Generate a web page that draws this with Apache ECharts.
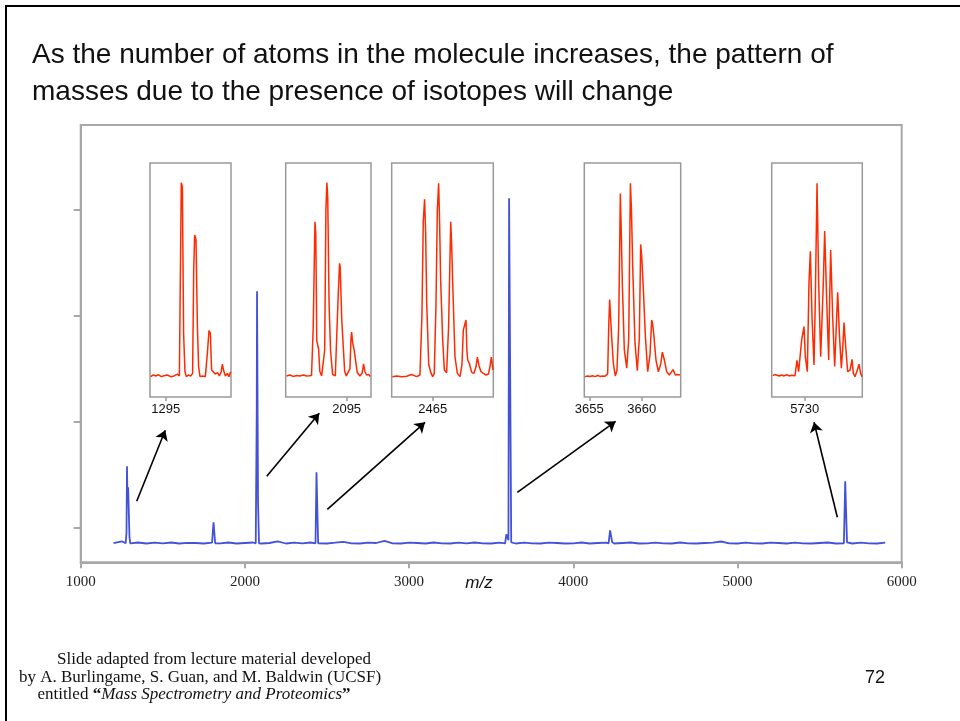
<!DOCTYPE html>
<html>
<head>
<meta charset="utf-8">
<title>isotope pattern</title>
<script src="https://cdn.jsdelivr.net/npm/echarts@6/dist/echarts.min.js"></script>
<style>
html,body{margin:0;padding:0;background:#fff;}
#main{width:960px;height:721px;}
</style>
</head>
<body>
<div id="main"></div>
<script>
// ---- main spectrum (blue) ----
// baseline noise, one value every 50 m/z from 1200
var noiseStart = 1200, noiseStep = 50;
var noiseVals = [
	19.2, 21, 19, 19.8, 18.8, 19.6, 19, 19.8, 18.8, 19.5,
	19.3, 18.8, 19.6, 19, 19.8, 18.8, 19.3, 19.8, 18.8, 19.3,
	21, 18.8, 19.6, 19, 19.8, 19, 18.8, 19.6, 20.5, 19,
	18.8, 19.6, 19.3, 21.5, 19, 18.8, 19.6, 19.3, 18.8, 19.8,
	19, 18.8, 19.6, 19, 19.8, 19, 18.8, 19.6, 19, 18.8,
	19.6, 19, 18.8, 19.6, 19.3, 18.8, 19, 19.8, 18.8, 19.3,
	19.6, 18.8, 19.3, 19.8, 18.8, 19, 19.6, 19, 18.8, 19.8,
	19, 18.8, 19.3, 19.6, 20.8, 19, 18.8, 19.6, 19, 18.8,
	19.6, 19.3, 18.8, 19.6, 19, 18.8, 19.3, 19.8, 18.8, 19,
	18.8, 19.6, 19, 18.8, 19.6
];
// peaks [m/z, intensity]
var peak1295 = [[1274,19],[1279,30],[1282,96],[1285,60],[1289,75],[1294,75],[1297,25],[1302,19]];
var peak1810 = [[1802,19],[1809,40],[1813,40],[1819,19]];
var peak2095 = [[2066,19],[2072,150],[2074,271],[2077,271],[2080,60],[2086,19]];
var peak2465 = [[2430,19],[2436,90],[2440,90],[2446,19]];
var peak3660 = [[3585,19],[3592,28],[3600,29],[3605,22],[3609,364],[3615,364],[3622,20]];
var peak4230 = [[4215,19],[4224,32],[4228,30],[4237,20]];
var peak5730 = [[5648,19],[5656,81],[5660,81],[5667,20]];
var peakGroups = [peak1295, peak1810, peak2095, peak2465, peak3660, peak4230, peak5730];

var xTicksMain = [1000, 2000, 3000, 4000, 5000, 6000];
var yTicksMain = [35, 141, 247, 353];

// arrows: from (near the blue peak) -> to (under the inset)
var arrowFrom = [[1341,61],[2133,86],[2502,53],[3659,70],[5608,45]];
var arrowTo   = [[1515,132],[2453,149],[3097,140],[4258,141],[5466,140]];

// ---- insets (red), [m/z, intensity 0..100] ----
var inset1 = [[1293.90,8.7],[1294.09,9.4],[1294.29,9.0],[1294.48,9.5],[1294.68,8.7],[1294.87,9.1],[1295.12,9.4],[1295.36,8.7],[1295.61,9.0],[1295.85,9.8],[1296.00,9.0],[1296.09,61.4],[1296.14,91.6],[1296.22,89.9],[1296.31,27.2],[1296.41,10.8],[1296.51,8.7],[1296.66,9.4],[1296.83,9.0],[1296.97,10.1],[1297.05,54.3],[1297.12,69.2],[1297.22,67.1],[1297.32,30.0],[1297.41,12.9],[1297.51,8.7],[1297.71,9.0],[1297.90,8.7],[1298.05,18.7],[1298.17,28.4],[1298.27,27.2],[1298.36,11.5],[1298.49,11.8],[1298.63,9.8],[1298.79,10.4],[1298.93,9.0],[1299.06,10.8],[1299.15,14.0],[1299.24,11.3],[1299.37,9.0],[1299.51,10.1],[1299.63,8.7],[1299.75,10.8]];
var inset2 = [[2090.07,9.0],[2090.35,9.4],[2090.61,8.8],[2090.9,9.2],[2091.16,9.0],[2091.45,9.4],[2091.71,9.0],[2091.95,9.1],[2092.12,9.2],[2092.26,30],[2092.40,74.9],[2092.47,70],[2092.55,24],[2092.70,20.5],[2092.80,11],[2092.95,9.0],[2093.08,9.2],[2093.2,20],[2093.30,80],[2093.38,91.6],[2093.45,85],[2093.56,40],[2093.68,20],[2093.85,9.6],[2094.07,9.0],[2094.22,9.8],[2094.32,45],[2094.42,57.1],[2094.47,55.7],[2094.6,33],[2094.72,22],[2094.84,11],[2094.97,9.0],[2095.13,9.4],[2095.27,12],[2095.36,25],[2095.41,27.8],[2095.5,23],[2095.62,20],[2095.75,15],[2095.87,10.5],[2096.09,9.0],[2096.26,10],[2096.36,13],[2096.39,14.2],[2096.5,10.8],[2096.64,9.4],[2096.81,9.6],[2096.94,8.8]];
var inset3 = [[2461.96,8.7],[2462.28,9.0],[2462.66,8.7],[2463.04,8.9],[2463.41,9.6],[2463.79,8.7],[2464.04,9.4],[2464.19,35],[2464.29,75],[2464.39,84.5],[2464.47,70],[2464.55,40],[2464.70,14],[2464.85,10.5],[2465.00,8.7],[2465.12,10.1],[2465.25,40],[2465.35,80],[2465.45,91.3],[2465.52,75],[2465.60,50],[2465.75,25],[2465.88,11.5],[2466.05,10.4],[2466.20,30],[2466.36,74.9],[2466.43,65],[2466.51,48.6],[2466.68,17.2],[2466.86,10.1],[2467.06,8.7],[2467.21,14],[2467.31,28.6],[2467.39,29.3],[2467.51,32.9],[2467.58,20],[2467.64,15.8],[2467.76,14.4],[2467.94,10.5],[2468.11,10.1],[2468.27,13.0],[2468.37,17.0],[2468.49,13.5],[2468.64,10.8],[2468.82,10.1],[2469.02,9.4],[2469.20,9.8],[2469.32,13.0],[2469.42,17.0],[2469.55,11.5]];
var inset4 = [[3654.59,8.7],[3654.85,9.0],[3655.07,8.8],[3655.30,9.1],[3655.54,8.7],[3655.80,9.2],[3656.02,8.8],[3656.25,9.0],[3656.50,8.9],[3656.75,10],[3656.85,30],[3656.94,41.7],[3657.02,35],[3657.13,25.8],[3657.29,14.4],[3657.48,9.0],[3657.64,11.5],[3657.80,30],[3657.96,87.0],[3658.05,70],[3658.15,48.6],[3658.34,20.1],[3658.57,12.3],[3658.76,25],[3658.92,91.3],[3659.02,80],[3659.14,55.7],[3659.36,22.9],[3659.58,11.2],[3659.77,25],[3659.90,65.2],[3660.0,60],[3660.16,45.7],[3660.35,25.8],[3660.57,10.8],[3660.79,18],[3660.95,32.9],[3661.05,31],[3661.17,25.8],[3661.36,15.8],[3661.59,10.8],[3661.81,14],[3661.97,19.2],[3662.16,15.8],[3662.38,10.8],[3662.64,9.4],[3662.83,9.8],[3662.99,11.7],[3663.21,9.4],[3663.43,9.6],[3663.65,9.4]];
var inset5 = [[5725.35,9.1],[5725.65,9.6],[5725.93,10.1],[5726.3,9.0],[5726.66,9.4],[5727.0,9.0],[5727.38,9.5],[5727.75,9.0],[5728.11,9.3],[5728.59,9.1],[5728.88,15.7],[5729.12,10.8],[5729.32,11.5],[5729.56,24.4],[5729.90,30.1],[5730.09,17.2],[5730.38,10.8],[5730.62,48.6],[5730.82,62.3],[5731.06,34.3],[5731.35,13.7],[5731.54,41.5],[5731.79,91.3],[5732.03,48.6],[5732.32,17.2],[5732.51,17.2],[5732.70,48.6],[5732.90,70.9],[5733.19,41.5],[5733.48,15.8],[5733.62,41.5],[5733.77,62.8],[5734.06,34.3],[5734.35,13.0],[5734.64,34.3],[5734.79,44.7],[5735.03,27.2],[5735.32,12.3],[5735.56,22.9],[5735.70,31.8],[5735.95,21.5],[5736.24,10.8],[5736.58,11.5],[5736.87,16.1],[5737.06,10.1],[5737.30,8.7],[5737.64,11.5],[5737.88,14.0],[5738.12,10.1],[5738.32,8.7]];

var insetRange1 = [1293.85, 1299.78], insetTicks1 = [1295];
var insetRange2 = [2090.0, 2097.0],   insetTicks2 = [2095];
var insetRange3 = [2461.91, 2469.57], insetTicks3 = [2465];
var insetRange4 = [3654.52, 3663.72], insetTicks4 = [3655, 3660];
var insetRange5 = [5725.21, 5738.36], insetTicks5 = [5730];

// layout of inset boxes (px)
var insetBox = [
	{left:150,   top:163, width:81,    height:234},
	{left:285.7, top:163, width:85.3,  height:234},
	{left:391.7, top:163, width:101.6, height:234},
	{left:584.3, top:163, width:96.4,  height:234},
	{left:771.7, top:163, width:90.6,  height:234}
];
var insetData = [inset1, inset2, inset3, inset4, inset5];
var insetRange = [insetRange1, insetRange2, insetRange3, insetRange4, insetRange5];
var insetTicks = [insetTicks1, insetTicks2, insetTicks3, insetTicks4, insetTicks5];

//build blue line: noise points outside peaks + peak points
function buildMain(){
	var pts = [];
	for(var i=0;i<noiseVals.length;i++){
		var x = noiseStart + i*noiseStep;
		var inside = false;
		for(var j=0;j<peakGroups.length;j++){
			var g = peakGroups[j];
			if(x >= g[0][0] && x <= g[g.length-1][0]){ inside = true; }
		}
		if(!inside){ pts.push([x, noiseVals[i]]); }
	}
	for(var k=0;k<peakGroups.length;k++){ pts = pts.concat(peakGroups[k]); }
	pts.sort(function(a,b){ return a[0]-b[0]; });
	return pts;
}
//plain number, no thousands comma
function plainNum(v){ return String(v); }

var axisGray = '#a8a8a8';
var grids = [{left:80.7, top:125, width:821, height:437.3, show:true, borderColor:axisGray, borderWidth:2, backgroundColor:'transparent'}];
var xAxes = [{
	gridIndex:0, type:'value', min:1000, max:6000, interval:1000,
	axisLine:{show:true, lineStyle:{color:axisGray, width:2}},
	axisTick:{show:true, inside:false, length:6, lineStyle:{color:axisGray, width:2}},
	axisLabel:{show:true, margin:12, color:'#222', fontSize:15, fontFamily:'"Liberation Serif", "DejaVu Serif", serif', customValues:xTicksMain, formatter:plainNum},
	splitLine:{show:false}
}];
var yAxes = [{
	gridIndex:0, type:'value', min:0, max:437.3,
	axisLine:{show:true, lineStyle:{color:axisGray, width:2}},
	axisTick:{show:true, inside:false, length:7, lineStyle:{color:axisGray, width:2}, customValues:yTicksMain},
	axisLabel:{show:false},
	splitLine:{show:false}
}];
var series = [{
	type:'line', xAxisIndex:0, yAxisIndex:0,
	data:buildMain(), showSymbol:false, symbol:'none', animation:false, silent:true,
	lineStyle:{color:'#4352d6', width:1.8},
	markLine:{
		silent:true, animation:false,
		symbol:['none','arrow'], symbolSize:10,
		label:{show:false},
		lineStyle:{color:'#000', width:1.6, type:'solid'},
		emphasis:{disabled:true},
		data:arrowFrom.map(function(p,i){ return [{coord:p},{coord:arrowTo[i]}]; })
	}
}];

for(var n=0;n<insetData.length;n++){
	var b = insetBox[n];
	grids.push({left:b.left, top:b.top, width:b.width, height:b.height, show:true, borderColor:'#999', borderWidth:1.5, backgroundColor:'#fff'});
	xAxes.push({
		gridIndex:n+1, type:'value', min:insetRange[n][0], max:insetRange[n][1],
		axisLine:{show:false},
		axisTick:{show:true, inside:false, length:4, lineStyle:{color:'#999', width:1.5}, customValues:insetTicks[n]},
		axisLabel:{show:true, margin:6, color:'#111', fontSize:13, fontFamily:'"Liberation Sans", Arial, sans-serif', customValues:insetTicks[n], formatter:plainNum},
		splitLine:{show:false}
	});
	yAxes.push({gridIndex:n+1, type:'value', min:0, max:100, show:false});
	series.push({
		type:'line', xAxisIndex:n+1, yAxisIndex:n+1,
		data:insetData[n], showSymbol:false, symbol:'none', animation:false, silent:true,
		lineStyle:{color:'#ff2a00', width:1.5}
	});
}

var sans = '"Liberation Sans", Arial, sans-serif';
var serif = '"Liberation Serif", "Times New Roman", serif';
var graphics = [
	{type:'rect', silent:true, shape:{x:6, y:6, width:1000, height:1000}, style:{fill:'none', stroke:'#000', lineWidth:2}},
	{type:'text', silent:true, x:32, y:37, style:{text:'As the number of atoms in the molecule increases, the pattern of\nmasses due to the presence of isotopes will change', font:'28px '+sans, fill:'#111', lineHeight:37}},
	{type:'text', silent:true, x:479, y:583, style:{text:'m/z', font:'italic 17px '+sans, fill:'#111', align:'center', verticalAlign:'middle'}},
	{type:'text', silent:true, x:214, y:660, style:{text:'Slide adapted from lecture material developed', font:'17px '+serif, fill:'#111', align:'center', verticalAlign:'middle'}},
	{type:'text', silent:true, x:200, y:677.5, style:{text:'by A. Burlingame, S. Guan, and M. Baldwin (UCSF)', font:'17px '+serif, fill:'#111', align:'center', verticalAlign:'middle'}},
	{type:'text', silent:true, x:194, y:695, style:{
		text:'{n|entitled }{q|\u201c}{i|Mass Spectrometry and Proteomics}{q|\u201d}',
		align:'center', verticalAlign:'middle',
		rich:{
			n:{font:'17px '+serif, fill:'#111'},
			q:{font:'bold 17px '+serif, fill:'#111'},
			i:{font:'italic 17px '+serif, fill:'#111'}
		}
	}},
	{type:'text', silent:true, x:875, y:678, style:{text:'72', font:'18px '+sans, fill:'#111', align:'center', verticalAlign:'middle'}}
];

var myChart = echarts.init(document.getElementById('main'), null, {renderer:'canvas'});
myChart.setOption({
	backgroundColor:'#fff',
	animation:false,
	grid:grids,
	xAxis:xAxes,
	yAxis:yAxes,
	series:series,
	graphic:graphics
});
</script>
</body>
</html>
